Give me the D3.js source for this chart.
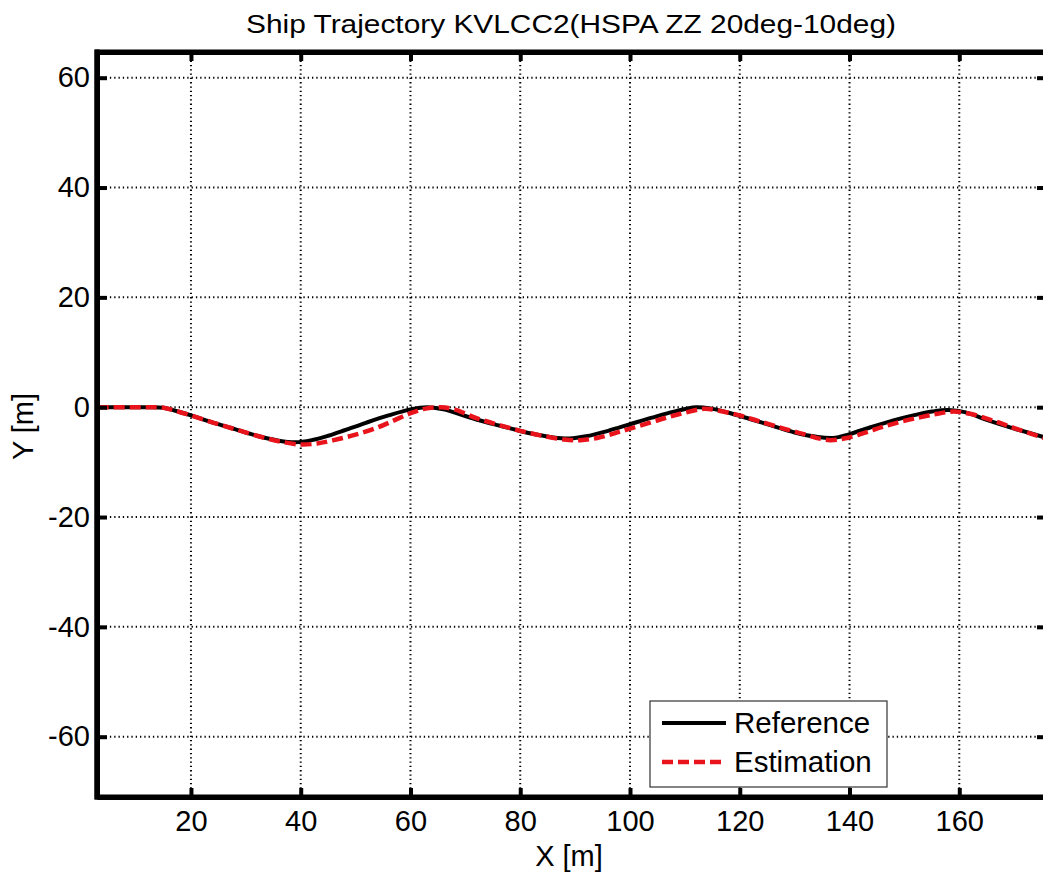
<!DOCTYPE html>
<html>
<head>
<meta charset="utf-8">
<script src="https://cdn.jsdelivr.net/npm/d3@7"></script>
<style>
  html, body { margin: 0; padding: 0; background: #fff; }
  svg { display: block; font-family: "Liberation Sans", Arial, sans-serif; }
</style>
</head>
<body>
<svg id="chart" width="1043" height="872"></svg>
<script>
// ---- data ----
const title = "Ship Trajectory KVLCC2(HSPA ZZ 20deg-10deg)";
const xLabel = "X [m]";
const yLabel = "Y [m]";
const seriesNames = ["Reference", "Estimation"];
const xTicks = [20, 40, 60, 80, 100, 120, 140, 160];
const yTicks = [-60, -40, -20, 0, 20, 40, 60];
const xDomain = [2.88, 175.8];
const yDomain = [-70.98, 64.68];

const refX = [3, 8, 12, 15, 17, 20, 24, 28, 32, 36, 39, 42, 45, 48, 52, 56, 60, 63, 66, 70, 74, 78, 82, 86, 89, 92, 96, 100, 104, 108, 112, 115, 118, 122, 126, 130, 134, 137, 140, 144, 148, 152, 155, 158, 161, 165, 170, 176];
const refY = [0, 0, 0, -0.1, -0.6, -1.5, -2.8, -4.0, -5.2, -6.1, -6.4, -6.0, -5.2, -4.2, -2.8, -1.5, -0.4, 0, -0.4, -1.6, -2.8, -3.8, -4.8, -5.5, -5.7, -5.3, -4.3, -3.1, -1.9, -0.8, 0, -0.3, -1.0, -2.2, -3.4, -4.6, -5.4, -5.6, -4.9, -3.6, -2.4, -1.4, -0.8, -0.5, -0.9, -2.3, -3.9, -5.6];

const estX = [3, 8, 12, 15, 17, 20, 24, 28, 32, 36, 40, 43, 46, 50, 54, 57, 60, 62.5, 65.5, 68, 72, 76, 80, 84, 88, 91, 94, 97, 100, 104, 107, 110, 113.5, 116, 120, 124, 128, 132, 134, 136.5, 139.5, 143, 146, 149.5, 153, 156, 159, 162, 166, 170, 176];
const estY = [0, 0, 0, -0.1, -0.6, -1.5, -2.8, -4.0, -5.2, -6.2, -6.8, -6.6, -6.0, -5.0, -3.7, -2.4, -1.1, -0.3, 0, -0.4, -2.0, -3.2, -4.3, -5.2, -5.9, -6.0, -5.6, -4.8, -3.9, -2.7, -1.8, -1.0, -0.3, -0.6, -1.5, -2.7, -3.9, -5.0, -5.6, -6.0, -5.6, -4.6, -3.6, -2.6, -1.8, -1.2, -0.8, -1.2, -2.4, -3.8, -5.8];

// ---- layout ----
const svg = d3.select("#chart");
const L = 97, R = 1046, T = 52, B = 797;
const FONT = "'Liberation Sans', Arial, sans-serif";
const x = d3.scaleLinear().domain(xDomain).range([L, R]);
const y = d3.scaleLinear().domain(yDomain).range([B, T]);

svg.append("defs").append("clipPath").attr("id", "clip")
  .append("rect").attr("x", L).attr("y", T).attr("width", R - L).attr("height", B - T);

// grid
const grid = svg.append("g");
grid.selectAll(".vg").data(xTicks).join("line")
  .attr("x1", d => x(d)).attr("x2", d => x(d)).attr("y1", T).attr("y2", B)
  .attr("stroke", "#000").attr("stroke-width", 2).attr("stroke-dasharray", "1.3,3");
grid.selectAll(".hg").data(yTicks).join("line")
  .attr("y1", d => y(d)).attr("y2", d => y(d)).attr("x1", L).attr("x2", R)
  .attr("stroke", "#000").attr("stroke-width", 2).attr("stroke-dasharray", "1.3,3");

// lines
const line = d3.line().curve(d3.curveCatmullRom).x(d => x(d[0])).y(d => y(d[1]));
const refData = refX.map((v, i) => [v, refY[i]]);
const estData = estX.map((v, i) => [v, estY[i]]);
const plot = svg.append("g").attr("clip-path", "url(#clip)");
plot.append("path").datum(refData).attr("d", line)
  .attr("fill", "none").attr("stroke", "#000").attr("stroke-width", 4);
plot.append("path").datum(estData).attr("d", line)
  .attr("fill", "none").attr("stroke", "#e8131b").attr("stroke-width", 4.5)
  .attr("stroke-dasharray", "11,5");

// axes frame with inward ticks
const fmt = d => String(d);
const axB = d3.axisBottom(x).tickValues(xTicks).tickSizeInner(-9).tickSizeOuter(0).tickPadding(13).tickFormat(fmt);
const axT = d3.axisTop(x).tickValues(xTicks).tickSizeInner(-9).tickSizeOuter(0).tickFormat("");
const axL = d3.axisLeft(y).tickValues(yTicks).tickSizeInner(-10).tickSizeOuter(0).tickPadding(7).tickFormat(fmt);
const axR = d3.axisRight(y).tickValues(yTicks).tickSizeInner(-9).tickSizeOuter(0).tickFormat("");

function style(g) {
  g.select(".domain").attr("stroke", "#000").attr("stroke-width", 5);
  g.selectAll(".tick line").attr("stroke", "#000").attr("stroke-width", 4);
  g.selectAll(".tick text").attr("fill", "#000").style("font-size", "29px")
    .style("font-family", FONT);
}
svg.append("g").attr("transform", `translate(0,${B})`).call(axB).call(style);
svg.append("g").attr("transform", `translate(0,${T})`).call(axT).call(style);
svg.append("g").attr("transform", `translate(${L},0)`).call(axL).call(style);
svg.append("g").attr("transform", `translate(${R},0)`).call(axR).call(style);
// square corners
svg.append("path").attr("d", `M${L},${B} L${L},${T} L${R},${T}`).attr("fill", "none")
  .attr("stroke", "#000").attr("stroke-width", 5).attr("stroke-linecap", "square");
svg.append("path").attr("d", `M${L},${T} L${L},${B} L${R},${B}`).attr("fill", "none")
  .attr("stroke", "#000").attr("stroke-width", 5).attr("stroke-linecap", "square");

// title & labels
svg.append("text").attr("x", 571).attr("y", 33).attr("text-anchor", "middle")
  .style("font-size", "25px").style("font-family", FONT).attr("fill", "#000")
  .attr("textLength", 650).attr("lengthAdjust", "spacingAndGlyphs").text(title);
svg.append("text").attr("x", 569).attr("y", 866).attr("text-anchor", "middle")
  .style("font-size", "29px").style("font-family", FONT).attr("fill", "#000").text(xLabel);
svg.append("text").attr("transform", `translate(33,${(T + B) / 2 + 2}) rotate(-90)`)
  .attr("text-anchor", "middle").style("font-size", "29px").style("font-family", FONT)
  .attr("fill", "#000").text(yLabel);

// legend
const lg = svg.append("g");
lg.append("rect").attr("x", 650).attr("y", 701).attr("width", 237).attr("height", 86)
  .attr("fill", "#fff").attr("stroke", "#333").attr("stroke-width", 1.2);
const legendItems = [
  { name: seriesNames[0], color: "#000", dash: null, w: 4 },
  { name: seriesNames[1], color: "#e8131b", dash: "11,5", w: 4.5 }
];
legendItems.forEach((it, i) => {
  const yy = 723 + i * 39;
  lg.append("line").attr("x1", 662).attr("x2", 726).attr("y1", yy).attr("y2", yy)
    .attr("stroke", it.color).attr("stroke-width", it.w)
    .attr("stroke-dasharray", it.dash);
  lg.append("text").attr("x", 734).attr("y", yy + 10).style("font-size", "29.5px")
    .style("font-family", FONT).attr("fill", "#000").text(it.name);
});
</script>
</body>
</html>
